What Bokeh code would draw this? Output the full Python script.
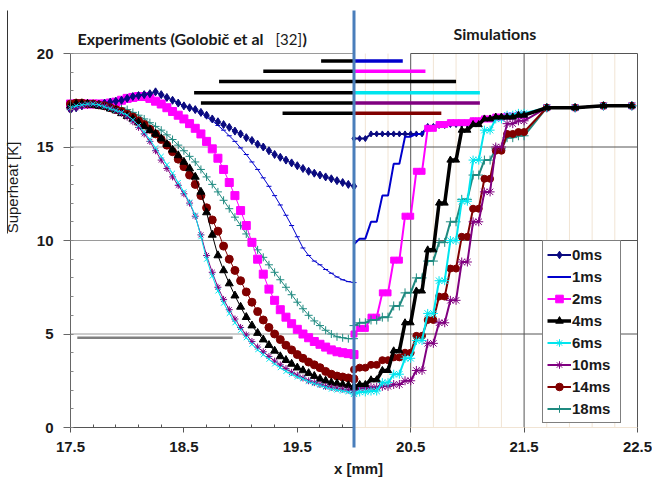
from math import pi

from bokeh.plotting import figure
from bokeh.models import Range1d, FixedTicker, Label, Legend, LegendItem
from bokeh.embed import file_html
from bokeh.resources import INLINE

# ---------------------------------------------------------------------------
# Measured superheat profiles, x in mm, superheat in K
# ---------------------------------------------------------------------------
x_exp = [17.50, 17.55, 17.60, 17.65, 17.70, 17.75, 17.80, 17.85, 17.90, 17.95,
         18.00, 18.05, 18.10, 18.15, 18.20, 18.25, 18.30, 18.35, 18.40, 18.45,
         18.50, 18.55, 18.60, 18.65, 18.70, 18.75, 18.80, 18.85, 18.90, 18.95,
         19.00, 19.05, 19.10, 19.15, 19.20, 19.25, 19.30, 19.35, 19.40, 19.45,
         19.50, 19.55, 19.60, 19.65, 19.70, 19.75, 19.80, 19.85, 19.90, 19.95, 20.00]

exp_0ms = [17.0, 17.1, 17.2, 17.3, 17.3, 17.3, 17.35, 17.4, 17.45, 17.5,
           17.6, 17.7, 17.75, 17.8, 17.85, 17.95, 17.8, 17.65, 17.5, 17.35,
           17.2, 17.1, 17.0, 16.85, 16.7, 16.5, 16.35, 16.2, 16.05, 15.85,
           15.7, 15.5, 15.35, 15.15, 15.0, 14.8, 14.6, 14.45, 14.3, 14.15,
           14.0, 13.85, 13.7, 13.6, 13.5, 13.4, 13.3, 13.2, 13.1, 13.0, 12.9]

exp_1ms = [17.0, 17.1, 17.2, 17.3, 17.3, 17.3, 17.35, 17.4, 17.45, 17.5,
           17.6, 17.7, 17.75, 17.8, 17.85, 17.95, 17.8, 17.65, 17.5, 17.35,
           17.2, 17.1, 16.95, 16.8, 16.6, 16.4, 16.15, 15.9, 15.6, 15.3,
           14.95, 14.6, 14.2, 13.8, 13.35, 12.9, 12.4, 11.9, 11.35, 10.8,
           10.2, 9.6, 9.2, 8.9, 8.7, 8.45, 8.25, 8.05, 7.9, 7.8, 7.75]

exp_2ms = [17.3, 17.3, 17.3, 17.3, 17.3, 17.3, 17.3, 17.35, 17.4, 17.5,
           17.6, 17.65, 17.7, 17.7, 17.6, 17.45, 17.3, 17.1, 16.9, 16.7,
           16.5, 16.25, 16.0, 15.7, 15.3, 14.9, 14.4, 13.8, 13.1, 12.4,
           11.6, 10.8, 9.9, 9.0, 8.2, 7.4, 6.8, 6.3, 5.9, 5.55,
           5.25, 5.0, 4.8, 4.6, 4.45, 4.3, 4.15, 4.05, 4.0, 3.95, 3.9]

exp_4ms = [17.2, 17.3, 17.3, 17.3, 17.25, 17.2, 17.15, 17.05, 16.95, 16.8,
           16.65, 16.5, 16.3, 16.1, 15.9, 15.7, 15.45, 15.15, 14.85, 14.55,
           14.2, 13.85, 13.4, 12.6, 11.5, 10.3, 9.2, 8.4, 7.7, 7.05,
           6.45, 5.9, 5.45, 5.05, 4.7, 4.4, 4.1, 3.8, 3.6, 3.4,
           3.2, 3.05, 2.9, 2.75, 2.6, 2.5, 2.4, 2.35, 2.3, 2.25, 2.2]

exp_6ms = [17.1, 17.2, 17.25, 17.3, 17.3, 17.25, 17.15, 17.05, 16.95, 16.85,
           16.7, 16.45, 16.15, 15.8, 15.4, 14.95, 14.5, 14.05, 13.6, 13.1,
           12.6, 12.05, 11.35, 10.2, 9.0, 8.1, 7.3, 6.65, 6.1, 5.6,
           5.2, 4.8, 4.45, 4.15, 3.9, 3.65, 3.4, 3.2, 3.0, 2.85,
           2.7, 2.6, 2.45, 2.35, 2.25, 2.15, 2.05, 2.0, 1.95, 1.9, 1.85]

exp_10ms = [17.0, 17.1, 17.2, 17.25, 17.3, 17.25, 17.2, 17.1, 16.95, 16.8,
            16.6, 16.35, 16.05, 15.7, 15.3, 14.8, 14.3, 13.85, 13.4, 12.95,
            12.5, 12.0, 11.3, 10.3, 9.2, 8.3, 7.5, 6.85, 6.3, 5.8,
            5.35, 4.95, 4.6, 4.3, 4.05, 3.8, 3.55, 3.35, 3.15, 2.95,
            2.8, 2.65, 2.5, 2.4, 2.3, 2.2, 2.15, 2.1, 2.05, 2.0, 2.0]

exp_14ms = [17.3, 17.35, 17.35, 17.3, 17.3, 17.25, 17.2, 17.1, 17.0, 16.9,
            16.75, 16.6, 16.4, 16.2, 15.95, 15.7, 15.4, 15.1, 14.75, 14.35,
            13.95, 13.5, 13.0, 12.4, 11.75, 11.1, 10.5, 9.7, 9.0, 8.4,
            7.85, 7.25, 6.7, 6.2, 5.75, 5.35, 5.0, 4.7, 4.4, 4.15,
            3.9, 3.7, 3.5, 3.35, 3.2, 3.0, 2.85, 2.75, 2.7, 2.65, 2.6]

exp_18ms = [17.0, 17.1, 17.2, 17.25, 17.3, 17.3, 17.3, 17.25, 17.2, 17.1,
            17.0, 16.85, 16.7, 16.5, 16.3, 16.1, 15.9, 15.65, 15.4, 15.1,
            14.8, 14.5, 14.2, 13.8, 13.4, 13.0, 12.6, 12.15, 11.7, 11.25,
            10.8, 10.35, 9.9, 9.5, 9.1, 8.7, 8.3, 7.9, 7.5, 7.1,
            6.7, 6.35, 6.0, 5.7, 5.45, 5.2, 5.0, 4.85, 4.8, 4.75, 4.75]

# ---------------------------------------------------------------------------
# Simulated profiles (cell values, right of the heater edge)
# ---------------------------------------------------------------------------
x_sim = [20.00, 20.05, 20.10, 20.15, 20.20, 20.25, 20.30, 20.35, 20.40, 20.45,
         20.50, 20.55, 20.60, 20.65, 20.70, 20.75, 20.80, 20.85, 20.90, 20.95,
         21.00, 21.05, 21.10, 21.15, 21.20, 21.25, 21.30, 21.35, 21.40, 21.45,
         21.50, 21.70, 21.95, 22.20, 22.45]

sim_0ms = [15.45, 15.45, 15.45, 15.7, 15.7, 15.7, 15.7, 15.7, 15.7, 15.7,
           15.7, 15.7, 15.7, 16.1, 16.1, 16.15, 16.15, 16.2, 16.2, 16.2,
           16.2, 16.4, 16.4, 16.55, 16.55, 16.6, 16.6, 16.65, 16.65, 16.7,
           16.7, 17.1, 17.1, 17.2, 17.2]

sim_1ms = [9.8, 10.1, 10.1, 11.0, 11.0, 12.4, 12.4, 14.1, 14.1, 15.55,
           15.55, 15.7, 15.7, 16.1, 16.1, 16.2, 16.2, 16.25, 16.25, 16.3,
           16.3, 16.45, 16.45, 16.55, 16.55, 16.6, 16.6, 16.65, 16.65, 16.7,
           16.7, 17.1, 17.1, 17.2, 17.2]

sim_2ms = [5.0, 5.3, 5.3, 5.9, 5.9, 7.2, 7.2, 8.95, 8.95, 11.3,
           11.3, 13.7, 13.7, 16.0, 16.0, 16.2, 16.2, 16.3, 16.3, 16.3,
           16.3, 16.4, 16.4, 16.5, 16.5, 16.6, 16.6, 16.65, 16.65, 16.7,
           16.7, 17.1, 17.1, 17.2, 17.2]

sim_4ms = [2.15, 2.3, 2.3, 2.55, 2.55, 3.05, 3.05, 4.1, 4.1, 5.6,
           5.6, 7.3, 7.3, 9.5, 9.5, 12.0, 12.0, 14.3, 14.3, 15.9,
           15.9, 16.2, 16.2, 16.5, 16.5, 16.6, 16.6, 16.6, 16.6, 16.7,
           16.7, 17.1, 17.1, 17.2, 17.2]

sim_6ms = [1.8, 1.9, 1.9, 1.95, 1.95, 2.4, 2.4, 2.85, 2.85, 3.7,
           3.7, 4.65, 4.65, 6.1, 6.1, 7.85, 7.85, 10.0, 10.0, 12.1,
           12.1, 14.3, 14.3, 15.9, 15.9, 16.5, 16.5, 16.7, 16.7, 16.8,
           16.8, 17.1, 17.1, 17.2, 17.2]

sim_10ms = [2.0, 2.1, 2.1, 2.15, 2.15, 2.2, 2.2, 2.3, 2.3, 2.5,
            2.5, 3.05, 3.05, 4.5, 4.5, 5.6, 5.6, 6.8, 6.8, 8.85,
            8.85, 11.0, 11.0, 12.6, 12.6, 15.0, 15.0, 16.25, 16.25, 16.4,
            16.4, 17.1, 17.1, 17.2, 17.2]

sim_14ms = [3.1, 3.2, 3.2, 3.35, 3.35, 3.6, 3.6, 3.75, 3.75, 4.0,
            4.0, 4.9, 4.9, 5.75, 5.75, 7.0, 7.0, 8.5, 8.5, 10.2,
            10.2, 11.7, 11.7, 13.3, 13.3, 14.8, 14.8, 15.7, 15.7, 15.8,
            15.8, 17.1, 17.1, 17.2, 17.2]

sim_18ms = [5.45, 5.6, 5.6, 5.75, 5.75, 5.9, 5.9, 6.5, 6.5, 7.2,
            7.2, 8.0, 8.0, 8.9, 8.9, 9.9, 9.9, 11.0, 11.0, 12.2,
            12.2, 13.5, 13.5, 14.3, 14.3, 14.9, 14.9, 15.5, 15.5, 15.6,
            15.6, 17.1, 17.1, 17.2, 17.2]

# dry-patch extents: measured part ends at the heater edge, simulated part starts there
bar_levels = [19.6, 19.05, 18.5, 17.9, 17.35, 16.8]
bar_exp_start = [19.71, 19.20, 18.81, 18.59, 18.65, 19.37]
bar_sim_end = [20.43, 20.63, 20.90, 21.11, 21.11, 20.77]
bar_sim_colors = ["#0000CC", "#FF00FF", "#000000", "#00E5EE", "#800080", "#800000"]

# reference level line
ref_level = [4.8]
ref_start = [17.56]
ref_end = [18.93]

X_SPLIT = 20.0
X_MIN, X_MAX = 17.5, 22.5
Y_MIN, Y_MAX = 0, 20
x_major = [17.5, 18.5, 19.5, 20.5, 21.5, 22.5]
x_minor_left = [17.7, 17.9, 18.1, 18.3, 18.7, 18.9, 19.1, 19.3, 19.7, 19.9]
x_minor_right = [20.1, 20.3, 20.7, 20.9, 21.1, 21.3, 21.7, 21.9, 22.1, 22.3]
x_major_right = [20.5, 21.5, 22.5]
y_major = [0, 5, 10, 15, 20]
y_minor = list(range(0, 21))

series = [
    # label, colour, exp y, exp marker, exp size, sim y, sim marker, sim size, sim width
    ("0ms", "#0A0A80", exp_0ms, "diamond", 8, sim_0ms, "diamond", 6, 2),
    ("1ms", "#0000CC", exp_1ms, "dash", 5, sim_1ms, None, 0, 2),
    ("2ms", "#FF00FF", exp_2ms, "square", 8, sim_2ms, "square", 6, 2),
    ("4ms", "#000000", exp_4ms, "triangle", 8, sim_4ms, "triangle", 7, 3.5),
    ("6ms", "#00E5EE", exp_6ms, "x", 7, sim_6ms, "asterisk", 9, 2),
    ("10ms", "#800080", exp_10ms, "asterisk", 7, sim_10ms, "asterisk", 9, 2),
    ("14ms", "#800000", exp_14ms, "circle", 8, sim_14ms, "circle", 7, 2),
    ("18ms", "#1F8A80", exp_18ms, "cross", 8, sim_18ms, "cross", 9, 2),
]
FILLED = {"diamond", "square", "triangle", "circle"}

# ---------------------------------------------------------------------------
# Canvas geometry: the frame fills the whole canvas and the axes are pinned
# to data locations, so everything maps with one linear scale per direction.
# ---------------------------------------------------------------------------
W, H = 652, 477
ORIGIN_X, ORIGIN_Y = 70, 427          # canvas pixel of (17.5, 0)
PX_X, PX_Y = 113.4, 18.7              # pixels per mm / per K


def dx(px):
    """canvas column -> data x"""
    return X_MIN + (px - ORIGIN_X) / PX_X


def dy(py):
    """canvas row -> data y"""
    return Y_MIN + (ORIGIN_Y - py) / PX_Y


p = figure(width=W, height=H, output_backend="svg", toolbar_location=None,
           x_range=Range1d(dx(0), dx(W)), y_range=Range1d(dy(H), dy(0)), title=None,
           min_border_left=0, min_border_right=0, min_border_top=0, min_border_bottom=0)
p.outline_line_color = None
p.background_fill_color = "white"
p.border_fill_color = "white"
p.xgrid.visible = False
p.ygrid.visible = False

TICK_FONT = "Liberation Sans"
TEXT_COLOR = "#1a1a1a"

# x axis: labels every mm (at the half), minor ticks only under the measured part
xa = p.xaxis[0]
xa.fixed_location = Y_MIN
xa.bounds = (X_MIN, X_MAX)
xa.ticker = FixedTicker(ticks=x_major, minor_ticks=x_minor_left)
xa.axis_line_color = None
xa.major_tick_in = 0
xa.major_tick_out = 5
xa.major_tick_line_color = "#555555"
xa.minor_tick_in = 3
xa.minor_tick_out = 0
xa.minor_tick_line_color = "#555555"
xa.major_label_text_font = TICK_FONT
xa.major_label_text_font_style = "bold"
xa.major_label_text_font_size = "15px"
xa.major_label_text_color = TEXT_COLOR
xa.major_label_standoff = 9

# y axis
ya = p.yaxis[0]
ya.fixed_location = X_MIN
ya.bounds = (Y_MIN, Y_MAX)
ya.ticker = FixedTicker(ticks=y_major, minor_ticks=y_minor)
ya.axis_line_color = "#666666"
ya.major_tick_in = 0
ya.major_tick_out = 7
ya.major_tick_line_color = "#666666"
ya.minor_tick_in = 3
ya.minor_tick_out = 0
ya.minor_tick_line_color = "#888888"
ya.major_label_text_font = TICK_FONT
ya.major_label_text_font_style = "bold"
ya.major_label_text_font_size = "15px"
ya.major_label_text_color = TEXT_COLOR
ya.major_label_standoff = 10

# ---- grid: measured half (light) and simulated half (dark + tinted minor lines)
h_left = [v for v in y_major if v > Y_MIN]
p.segment(x0=[X_MIN] * len(h_left), y0=h_left, x1=[X_SPLIT] * len(h_left), y1=h_left,
          line_color="#9a9a9a", line_width=1)
p.segment(x0=x_minor_right, y0=[Y_MIN] * len(x_minor_right), x1=x_minor_right,
          y1=[Y_MAX] * len(x_minor_right), line_color="#F1E4D4", line_width=1)
h_right = [v for v in y_major if Y_MIN < v < Y_MAX]
p.segment(x0=[X_SPLIT] * len(h_right), y0=h_right, x1=[X_MAX] * len(h_right), y1=h_right,
          line_color="#555555", line_width=1)
p.segment(x0=[x_major_right[0]], y0=[Y_MAX], x1=[X_MAX], y1=[Y_MAX],
          line_color="#555555", line_width=1)
p.segment(x0=x_major_right, y0=[Y_MIN] * 3, x1=x_major_right, y1=[Y_MAX] * 3,
          line_color="#555555", line_width=1)
p.segment(x0=[X_SPLIT], y0=[Y_MIN], x1=[X_MAX], y1=[Y_MIN], line_color="#F1E4D4", line_width=1)
p.segment(x0=[X_MIN], y0=[Y_MIN], x1=[X_SPLIT], y1=[Y_MIN], line_color="#555555", line_width=1)

# thin frame edge at the far left
p.segment(x0=[dx(7)], y0=[dy(233)], x1=[dx(7)], y1=[dy(10)], line_color="#333333", line_width=1)

# reference level line
p.segment(x0=ref_start, y0=ref_level, x1=ref_end, y1=ref_level, line_color="#808080", line_width=2.5)

# ---- measured curves
spec = {s[0]: s for s in series}
for name in ["18ms", "2ms", "1ms", "0ms", "14ms", "4ms", "10ms", "6ms"]:
    label, col, ey, em, es, sy, sm, ss, sw = spec[name]
    p.line(x_exp, ey, line_color=col, line_width=1)
    p.scatter(x_exp, ey, marker=em, size=es, line_color=col, line_width=1,
              fill_color=col if em in FILLED else None)

# ---- simulated curves
legend_refs = {}
for name in ["0ms", "1ms", "2ms", "18ms", "14ms", "10ms", "6ms", "4ms"]:
    label, col, ey, em, es, sy, sm, ss, sw = spec[name]
    lr = p.line(x_sim, sy, line_color=col, line_width=sw)
    rs = [lr]
    if sm is not None:
        rs.append(p.scatter(x_sim, sy, marker=sm, size=ss, line_color=col, line_width=1,
                            fill_color=col if sm in FILLED else None))
    legend_refs[name] = rs

# ---- dry-patch bars
n = len(bar_levels)
p.segment(x0=bar_exp_start, y0=bar_levels, x1=[X_SPLIT] * n, y1=bar_levels,
          line_color="#000000", line_width=3.5)
p.segment(x0=[X_SPLIT] * n, y0=bar_levels, x1=bar_sim_end, y1=bar_levels,
          line_color=bar_sim_colors, line_width=3.5)

# ---- heater edge divider
p.segment(x0=[X_SPLIT], y0=[dy(447)], x1=[X_SPLIT], y1=[dy(10)],
          line_color="#4A7EBB", line_width=3)

# ---- legend
legend = Legend(items=[LegendItem(label=s[0], renderers=legend_refs[s[0]]) for s in series],
                location=(542, H - 423), orientation="vertical",
                border_line_color="#000000", border_line_width=1,
                background_fill_color="white", background_fill_alpha=1,
                label_text_font=TICK_FONT, label_text_font_style="bold",
                label_text_font_size="15px", label_text_color=TEXT_COLOR,
                glyph_width=24, glyph_height=19, label_height=19, label_width=44,
                label_standoff=1, spacing=3, padding=4, margin=0)
p.add_layout(legend)

# ---- headings and axis titles (screen units from the canvas bottom-left)
TITLE_FONT = "Lato"


def put(text, x, y, **kw):
    p.add_layout(Label(x=x, y=H - y, x_units="screen", y_units="screen", text=text,
                       text_color=TEXT_COLOR, text_baseline="middle", **kw))


put("Experiments (Golobič et al", 77, 38, text_font=TITLE_FONT,
    text_font_style="bold", text_font_size="16px")
put("[32]", 275, 38, text_font=TITLE_FONT, text_font_size="15px")
put(")", 302, 38, text_font=TITLE_FONT, text_font_style="bold", text_font_size="16px")
put("Simulations", 453, 33, text_font=TITLE_FONT, text_font_style="bold", text_font_size="16px")
put("Superheat [K]", 12, 187, angle=pi / 2, text_align="center",
    text_font=TICK_FONT, text_font_size="15px")
put("x [mm]", 358, 468, text_align="center", text_font=TICK_FONT,
    text_font_style="bold", text_font_size="15px")

open("out.html", "w").write(file_html(p, INLINE))
